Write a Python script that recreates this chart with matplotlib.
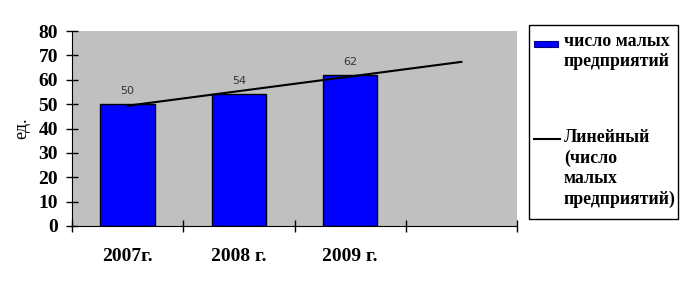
import numpy as np
import matplotlib
matplotlib.use("Agg")
import matplotlib.pyplot as plt
from matplotlib.patches import Rectangle
from matplotlib.lines import Line2D

YEARS = ["2007г.", "2008 г.", "2009 г."]
VALUES = [50, 54, 62]
Y_TICKS = [0, 10, 20, 30, 40, 50, 60, 70, 80]
BAR_LABEL = "число малых\nпредприятий"
TREND_LABEL = "Линейный\n(число\nмалых\nпредприятий)"

SERIF = "Liberation Serif"

fig = plt.figure(figsize=(6.84, 3.02), dpi=100)
ax = fig.add_axes([72 / 684, 1 - 226 / 302, 445 / 684, 195 / 302])
ax.set_facecolor("#c0c0c0")

x = np.arange(len(VALUES))
ax.bar(x, VALUES, width=0.49, color="#0000ff", edgecolor="black", linewidth=1, zorder=2)

for xi, v in zip(x, VALUES):
    ax.annotate(str(v), (xi, v), xytext=(0, 6), textcoords="offset points",
                ha="center", va="bottom", fontsize=8, color="#333333",
                family="DejaVu Sans")

# linear trend, forecast one period forward
k, b = np.polyfit(x, VALUES, 1)
xt = np.array([0, len(VALUES)])
ax.plot(xt, k * xt + b, color="black", linewidth=1.5, zorder=3)

ax.set_xlim(-0.5, 3.5)
ax.set_ylim(0, 80)
ax.set_yticks(Y_TICKS)
ax.set_xticks(np.arange(-0.5, 4, 1))
ax.set_xticklabels([])
ax.set_xticks(x, minor=True)
ax.set_xticklabels(YEARS, minor=True)
ax.tick_params(axis="x", which="major", direction="inout", length=8, width=1)
ax.tick_params(axis="x", which="minor", length=0, pad=16)
ax.tick_params(axis="y", direction="inout", length=8, width=1, pad=6)
for lab in ax.get_xticklabels(minor=True) + ax.get_yticklabels():
    lab.set_family(SERIF)
    lab.set_fontweight("bold")
    lab.set_fontsize(14)

for s in ["top", "right"]:
    ax.spines[s].set_visible(False)
ax.set_ylabel("ед.", family=SERIF, fontsize=13, labelpad=6)

# legend drawn by hand
W, H = 684, 302
fig.patches.append(Rectangle((529 / W, 1 - 219 / H), 149 / W, 194 / H,
                             transform=fig.transFigure, fill=False,
                             edgecolor="black", linewidth=1))
fig.patches.append(Rectangle((534 / W, 1 - 47 / H), 24 / W, 6 / H,
                             transform=fig.transFigure, facecolor="#0000ff",
                             edgecolor="#000080", linewidth=0.8))
fig.lines.append(Line2D([534 / W, 560 / W], [1 - 139 / H, 1 - 139 / H],
                        transform=fig.transFigure, color="black", linewidth=1.5))
fig.text(564 / W, 1 - 33 / H, BAR_LABEL, family=SERIF, fontweight="bold",
         fontsize=12.8, va="top", ha="left", linespacing=1.25)
fig.text(564 / W, 1 - 129 / H, TREND_LABEL, family=SERIF, fontweight="bold",
         fontsize=12.8, va="top", ha="left", linespacing=1.25)

fig.savefig("out.png", dpi=100)
